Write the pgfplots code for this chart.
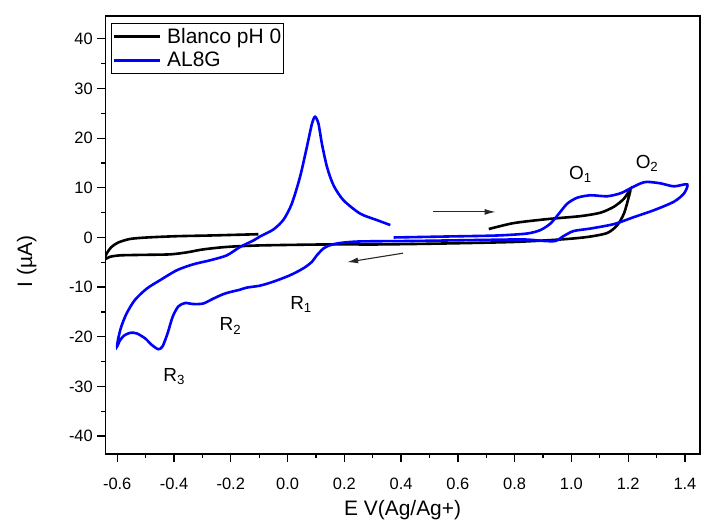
\documentclass[border=0pt]{standalone}
\usepackage{fontspec}
\setmainfont{Liberation Sans}
\usepackage{pgfplots}
\pgfplotsset{compat=1.18}
\usetikzlibrary{arrows.meta}
\definecolor{arrowgray}{RGB}{40,40,40}
\begin{document}
\begin{tikzpicture}
\begin{axis}[
  name=ax, at={(0,0)}, anchor=south west,
  scale only axis, width=594.7bp, height=438bp,
  xmin=-0.642, xmax=1.453, ymin=-43.6, ymax=44.6,
  axis line style={line width=1.4bp},
  xtick={-0.6,-0.4,-0.2,0,0.2,0.4,0.6,0.8,1.0,1.2,1.4},
  ytick={-40,-30,-20,-10,0,10,20,30,40},
  minor x tick num=1, minor y tick num=1,
  tick align=outside, xtick pos=bottom, ytick pos=left,
  major tick length=8bp, minor tick length=4bp,
  every tick/.style={black, line width=1.3bp},
  tick label style={font=\fontsize{16.5}{18}\selectfont},
  /pgf/number format/assume math mode=true,
  xticklabel style={/pgf/number format/fixed,/pgf/number format/fixed zerofill,/pgf/number format/precision=1, yshift=-13bp},
  yticklabel style={xshift=-1bp},
  xlabel={E V(Ag/Ag+)},
  ylabel={I (µA)},
  label style={font=\fontsize{21}{24}\selectfont},
  xlabel style={at={(axis description cs:0.5,-0.128)}, anchor=center},
  ylabel style={at={(axis description cs:-0.132,0.44)}, anchor=center, rotate=0},
  legend style={at={(axis description cs:0.0096,0.984)}, anchor=north west,
    draw=black, line width=0.8bp, font=\fontsize{21}{24}\selectfont,
    inner xsep=1bp, inner ysep=3bp, row sep=3bp,
    nodes={inner xsep=1bp, inner ysep=2bp}},
  legend cell align=left,
  legend image code/.code={\draw[#1, line width=3bp] (0bp,0bp) -- (46bp,0bp); \path (51bp,0bp);},
  clip=true,
]
\addplot[black, line width=2.6bp, smooth, tension=0.45] coordinates {
(0.709,1.7)(0.797,2.9)(0.915,3.7)(1.032,4.3)(1.103,5.0)(1.150,6.2)(1.185,7.8)(1.208,9.7)
(1.199,7.5)(1.185,4.8)(1.162,2.5)(1.126,0.9)(1.056,0.1)(0.962,-0.4)(0.797,-0.9)(0.562,-1.2)
(0.327,-1.4)(0.139,-1.4)(-0.097,-1.6)(-0.214,-1.9)(-0.297,-2.4)(-0.355,-3.0)(-0.414,-3.4)
(-0.508,-3.5)(-0.590,-3.6)(-0.626,-3.9)(-0.645,-4.4)(-0.637,-3.2)(-0.620,-1.9)(-0.596,-1.0)
(-0.555,-0.3)(-0.496,0.0)(-0.390,0.26)(-0.273,0.4)(-0.103,0.66)
};
\addlegendentry{Blanco pH 0}
\addplot[blue, line width=2.6bp, smooth, tension=0.45] coordinates {
(0.374,0.0)(0.562,0.2)(0.738,0.4)(0.844,0.8)(0.891,1.5)(0.926,2.8)(0.956,4.8)(0.985,6.8)
(1.020,8.0)(1.067,8.5)(1.126,8.3)(1.173,8.9)(1.208,9.9)(1.244,10.9)(1.267,11.2)(1.314,10.9)
(1.361,10.3)(1.408,10.7)(1.397,8.9)(1.361,7.2)(1.291,5.5)(1.220,4.1)(1.150,2.7)(1.067,1.8)
(1.008,1.3)(0.973,0.3)(0.944,-0.7)(0.903,-0.7)(0.832,-0.4)(0.679,-0.5)(0.444,-0.7)
(0.256,-0.8)(0.186,-1.1)(0.150,-1.55)(0.127,-2.2)(0.103,-3.6)(0.086,-4.9)(0.056,-6.2)
(0.009,-7.6)(-0.050,-8.9)(-0.097,-9.7)(-0.144,-10.1)(-0.173,-10.6)(-0.196,-10.9)
(-0.226,-11.4)(-0.261,-12.3)(-0.297,-13.3)(-0.332,-13.4)(-0.361,-13.2)(-0.385,-13.9)
(-0.405,-16.0)(-0.422,-19.2)(-0.440,-21.9)(-0.455,-22.5)(-0.479,-21.6)(-0.502,-20.3)
(-0.532,-19.3)(-0.555,-19.2)(-0.577,-19.8)(-0.591,-20.8)(-0.600,-21.9)(-0.597,-20.5)
(-0.586,-18.0)(-0.567,-15.3)(-0.538,-12.6)(-0.496,-10.3)(-0.449,-8.6)(-0.390,-6.6)
(-0.332,-5.4)(-0.273,-4.6)(-0.214,-3.6)(-0.167,-1.9)(-0.120,-0.6)(-0.097,0.2)(-0.050,1.6)
(-0.014,3.6)(0.015,6.8)(0.044,12.2)(0.068,18.2)(0.086,22.9)(0.097,24.3)(0.109,22.9)
(0.121,18.9)(0.139,14.2)(0.162,10.5)(0.197,7.5)(0.256,4.8)(0.315,3.5)(0.362,2.5)
};
\addlegendentry{AL8G}
\draw[arrowgray, line width=1.1bp, -{Latex[length=11bp,width=6bp]}] (axis cs:0.514,5.15) -- (axis cs:0.733,5.15);
\draw[arrowgray, line width=1.1bp, -{Latex[length=11bp,width=6bp]}] (axis cs:0.407,-3.16) -- (axis cs:0.210,-4.97);
\node[anchor=base west, inner sep=0pt, font=\fontsize{19}{22}\selectfont] at (axis cs:0.991,11.7) {O\textsubscript{1}};
\node[anchor=base west, inner sep=0pt, font=\fontsize{19}{22}\selectfont] at (axis cs:1.226,13.9) {O\textsubscript{2}};
\node[anchor=base west, inner sep=0pt, font=\fontsize{19}{22}\selectfont] at (axis cs:0.009,-14.5) {R\textsubscript{1}};
\node[anchor=base west, inner sep=0pt, font=\fontsize{19}{22}\selectfont] at (axis cs:-0.240,-18.8) {R\textsubscript{2}};
\node[anchor=base west, inner sep=0pt, font=\fontsize{19}{22}\selectfont] at (axis cs:-0.438,-28.9) {R\textsubscript{3}};
\end{axis}
\pgfresetboundingbox
\path[use as bounding box] (-105.3bp,-69bp) rectangle (595.7bp,454bp);
\end{tikzpicture}
\end{document}
